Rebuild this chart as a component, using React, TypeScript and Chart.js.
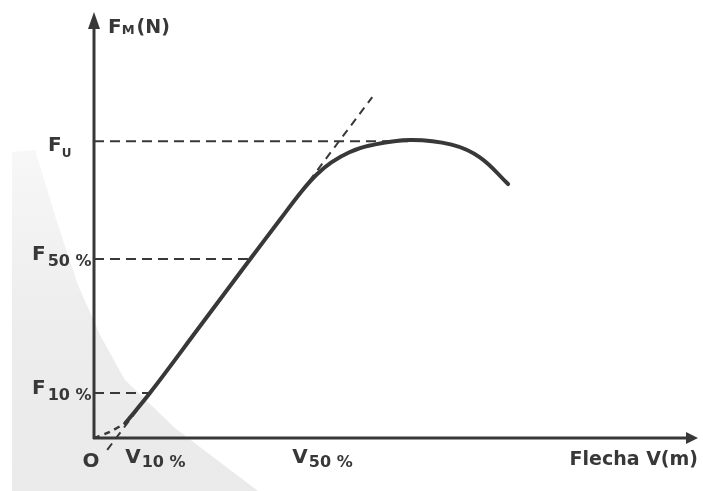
import React, { useEffect, useRef } from "react";
import { Chart, registerables } from "chart.js";

Chart.register(...registerables);

// Load–deflection curve (arbitrary units: 0..100 on each axis)
const toeX = [0, 2.7, 5.2];
const toeY = [0, 1.5, 3.5];
const curveX = [5.2, 9.3, 17.6, 26.0, 31.0, 34.5, 37.1, 39.5, 42.5, 45.9, 52.6, 59.5, 64.2, 68.9];
const curveY = [3.5, 10.6, 26.3, 42.2, 51.6, 58.1, 62.2, 65.0, 67.4, 69.0, 70.3, 69.2, 66.2, 59.9];

// Tangent to the linear part
const tangentX = [2.2, 46.3];
const tangentY = [-2.8, 80.4];

// Reference force levels (label main / subscript, level, x where it meets curve)
const refMain = ["F", "F", "F"];
const refSub = ["U", "50 %", "10 %"];
const refY = [70.0, 42.2, 10.6];
const refX = [52.6, 26.0, 9.3];

// Labels under the horizontal axis
const xLabMain = ["O", "V", "V"];
const xLabSub = ["", "10 %", "50 %"];
const xLabX = [-0.5, 5.2, 33.0];

const yAxisTitleMain = "F";
const yAxisTitleSub = "M";
const yAxisTitleTail = "(N)";
const xAxisTitle = "Flecha V(m)";

const INK = "#383838";
const FONT = "'DejaVu Sans', sans-serif";

const pts = (xs: number[], ys: number[]) => xs.map((x, i) => ({ x, y: ys[i] }));

const decorPlugin = {
  id: "decor",
  beforeDraw(chart: any) {
    const ctx = chart.ctx as CanvasRenderingContext2D;
    ctx.save();
    ctx.fillStyle = "#ffffff";
    ctx.fillRect(0, 0, chart.width, chart.height);
    // scan shading at the lower left
    const g = ctx.createLinearGradient(0, 150, 0, 491);
    g.addColorStop(0, "rgba(190,190,190,0.12)");
    g.addColorStop(0.5, "rgba(190,190,190,0.28)");
    g.addColorStop(1, "rgba(190,190,190,0.32)");
    ctx.fillStyle = g;
    ctx.beginPath();
    ctx.moveTo(12, 152);
    ctx.lineTo(35, 150);
    ctx.lineTo(58, 225);
    ctx.lineTo(78, 285);
    ctx.lineTo(100, 335);
    ctx.lineTo(125, 380);
    ctx.lineTo(175, 428);
    ctx.lineTo(225, 466);
    ctx.lineTo(258, 491);
    ctx.lineTo(12, 491);
    ctx.closePath();
    ctx.fill();
    ctx.restore();
  },
  afterDraw(chart: any) {
    const ctx = chart.ctx as CanvasRenderingContext2D;
    const xs = chart.scales.x;
    const ys = chart.scales.y;
    const ox = xs.getPixelForValue(0);
    const oy = ys.getPixelForValue(0);
    const xEnd = xs.getPixelForValue(100.5);
    const yEnd = ys.getPixelForValue(100.5);
    ctx.save();
    // axes
    ctx.strokeStyle = INK;
    ctx.fillStyle = INK;
    ctx.lineWidth = 3;
    ctx.lineCap = "butt";
    ctx.beginPath();
    ctx.moveTo(ox, oy + 1);
    ctx.lineTo(ox, yEnd + 12);
    ctx.moveTo(ox - 1, oy);
    ctx.lineTo(xEnd - 10, oy);
    ctx.stroke();
    // arrow heads
    ctx.beginPath();
    ctx.moveTo(ox, yEnd);
    ctx.lineTo(ox - 6, yEnd + 17);
    ctx.lineTo(ox + 6, yEnd + 17);
    ctx.closePath();
    ctx.fill();
    ctx.beginPath();
    ctx.moveTo(xEnd, oy);
    ctx.lineTo(xEnd - 12, oy - 6);
    ctx.lineTo(xEnd - 12, oy + 6);
    ctx.closePath();
    ctx.fill();

    const mainFont = `bold 20px ${FONT}`;
    const subFont = `bold 16px ${FONT}`;
    const smallSub = `bold 12px ${FONT}`;
    ctx.textBaseline = "alphabetic";
    ctx.textAlign = "left";

    const drawLab = (x: number, base: number, main: string, sub: string, sf: string, subDrop: number, gap: number) => {
      ctx.font = mainFont;
      ctx.fillText(main, x, base);
      const w = ctx.measureText(main).width;
      if (sub) {
        ctx.font = sf;
        ctx.fillText(sub, x + w + gap, base + subDrop);
      }
    };

    // y reference labels
    refMain.forEach((m, i) => {
      const py = ys.getPixelForValue(refY[i]);
      if (i === 0) {
        drawLab(ox - 46, py + 10, m, refSub[i], smallSub, 6, 0);
      } else {
        drawLab(ox - 62, py + 1, m, refSub[i], subFont, 6, 2);
      }
    });

    // x labels
    xLabMain.forEach((m, i) => {
      const px = xs.getPixelForValue(xLabX[i]);
      if (!xLabSub[i]) {
        ctx.font = mainFont;
        ctx.textAlign = "center";
        ctx.fillText(m, px, oy + 29);
        ctx.textAlign = "left";
      } else {
        drawLab(px, oy + 25, m, xLabSub[i], subFont, 4, 1);
      }
    });

    // axis titles
    drawLab(ox + 14, yEnd + 21, yAxisTitleMain, yAxisTitleSub, `bold 13px ${FONT}`, 1, 0);
    ctx.font = mainFont;
    const tw = ctx.measureText(yAxisTitleMain).width;
    ctx.font = `bold 13px ${FONT}`;
    const mw = ctx.measureText(yAxisTitleSub).width;
    ctx.font = `bold 19px ${FONT}`;
    ctx.fillText(yAxisTitleTail, ox + 14 + tw + mw + 2, yEnd + 21);

    ctx.font = `bold 19px ${FONT}`;
    ctx.textAlign = "right";
    ctx.fillText(xAxisTitle, xEnd, oy + 27);
    ctx.restore();
  },
};

export default function App() {
  const ref = useRef<HTMLCanvasElement | null>(null);
  useEffect(() => {
    if (!ref.current) return;
    const dashed = { borderColor: INK, borderWidth: 2, borderDash: [10, 6], pointRadius: 0, showLine: true, clip: false as const, tension: 0 };
    const chart = new Chart(ref.current, {
      type: "scatter",
      data: {
        datasets: [
          { ...dashed, data: pts(toeX, toeY), borderDash: [6, 5], borderWidth: 2.5, tension: 0.3 },
          { data: pts(curveX, curveY), borderColor: INK, borderWidth: 4, pointRadius: 0, showLine: true, clip: false as const, tension: 0.4, borderCapStyle: "round" as const },
          { ...dashed, data: pts(tangentX, tangentY), borderDash: [8, 6] },
          ...refY.map((y, i) => ({ ...dashed, data: [{ x: 0, y }, { x: refX[i], y }] })),
        ],
      },
      options: {
        animation: false,
        responsive: true,
        maintainAspectRatio: false,
        layout: { padding: { left: 94, top: 14, right: 8, bottom: 53 } },
        plugins: { legend: { display: false }, tooltip: { enabled: false } },
        scales: {
          x: { type: "linear", min: 0, max: 100, display: false },
          y: { type: "linear", min: 0, max: 100, display: false },
        },
      },
      plugins: [decorPlugin],
    });
    return () => chart.destroy();
  }, []);
  return (
    <div style={{ position: "fixed", left: 0, top: 0, width: 703, height: 491, background: "#fff" }}>
      <canvas ref={ref} />
    </div>
  );
}
